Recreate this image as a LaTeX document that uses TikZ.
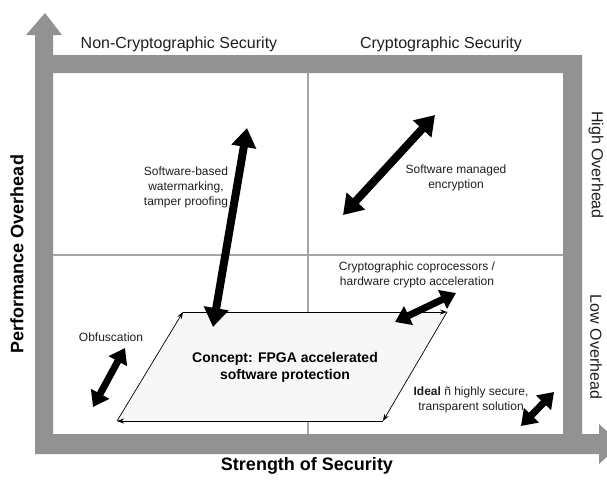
\documentclass[tikz,border=0pt]{standalone}
\usepackage{fontspec}
\setmainfont{Liberation Sans}
\usetikzlibrary{arrows.meta}
\definecolor{framegray}{RGB}{146,146,146}
\definecolor{linegray}{RGB}{165,165,165}
\definecolor{conceptfill}{RGB}{247,247,247}
\definecolor{labeltext}{RGB}{30,30,30}
\begin{document}
\begin{tikzpicture}[x=1pt,y=-1pt,
  bigarrow/.style={line width=8pt,
    {Triangle[length=19pt,width=24pt]}-{Triangle[length=19pt,width=24pt]}},
  smallarrow/.style={line width=7pt,
    {Triangle[length=15pt,width=20pt]}-{Triangle[length=15pt,width=20pt]}},
  edgearrow/.style={line width=0.7pt, -{Stealth[length=7pt,width=5pt]}},
  small/.style={font=\fontsize{12}{15}\selectfont, text=labeltext, align=center, inner sep=0pt},
  header/.style={font=\fontsize{16}{19}\selectfont, text=labeltext, inner sep=0pt},
  axistitle/.style={font=\bfseries\fontsize{18}{21}\selectfont, inner sep=0pt}]
\useasboundingbox (0,0) rectangle (607,480);

% grey frame with the two axis arrows
\fill[framegray,even odd rule] (35,55) rectangle (582,454) (53,73) rectangle (563,434);
\fill[framegray] (35,56) -- (35,35) -- (26,35) -- (45,13) -- (62,35) -- (53,35) -- (53,56) -- cycle;
\fill[framegray] (581,434) -- (599,434) -- (599,424) -- (621,444) -- (599,464) -- (599,454) -- (581,454) -- cycle;

% quadrant dividers
\draw[linegray, line width=2pt] (308,73) -- (308,434);
\draw[linegray, line width=2pt] (53,255) -- (563,255);

% column and row headings
\node[header] (noncrypto) at (179,44) {Non-Cryptographic Security};
\node[header] (crypto) at (441,44) {Cryptographic Security};
\node[header, rotate=-90] (high) at (596,165) {High Overhead};
\node[header, rotate=-90] (low) at (596,347) {Low Overhead};
\node[axistitle, rotate=90] (perf) at (17,254) {Performance Overhead};
\node[axistitle] (strength) at (307,466) {Strength of Security};

% concept parallelogram
\coordinate (pa) at (117,421);
\coordinate (pb) at (183,312);
\coordinate (pc) at (447,312);
\coordinate (pd) at (383,421);
\fill[conceptfill] (pa) -- (pb) -- (pc) -- (pd) -- cycle;
\draw[edgearrow] (pa) -- (pb);
\draw[edgearrow] (pb) -- (pc);
\draw[edgearrow] (pc) -- (pd);
\draw[edgearrow] (pd) -- (pa);
\node[font=\bfseries\fontsize{14}{17}\selectfont, align=center, inner sep=0pt] (concept) at (285,367)
  {Concept: FPGA accelerated\\software protection};

% approaches and their double arrows
\node[small] (watermark) at (186,187) {Software-based\\watermarking,\\tamper proofing};
\coordinate (wmtop) at (247,128);
\coordinate (wmbot) at (213,327);
\draw[bigarrow] (wmbot) -- (wmtop);

\node[small] (encrypt) at (456,178) {Software managed\\encryption};
\coordinate (enctop) at (435,115);
\coordinate (encbot) at (343,215);
\draw[bigarrow] (encbot) -- (enctop);

\node[small] (coproc) at (417,275) {Cryptographic coprocessors /\\hardware crypto acceleration};
\coordinate (cpleft) at (395,322);
\coordinate (cpright) at (456,293);
\draw[smallarrow] (cpleft) -- (cpright);

\node[small] (obf) at (111,337) {Obfuscation};
\coordinate (obftop) at (125,348);
\coordinate (obfbot) at (93,407);
\draw[smallarrow] (obfbot) -- (obftop);

\node[small] (ideal) at (471,400) {\textbf{Ideal} ñ highly secure,\\transparent solution};
\coordinate (idtop) at (554,392);
\coordinate (idbot) at (521,426);
\draw[smallarrow] (idbot) -- (idtop);
\end{tikzpicture}
\end{document}
